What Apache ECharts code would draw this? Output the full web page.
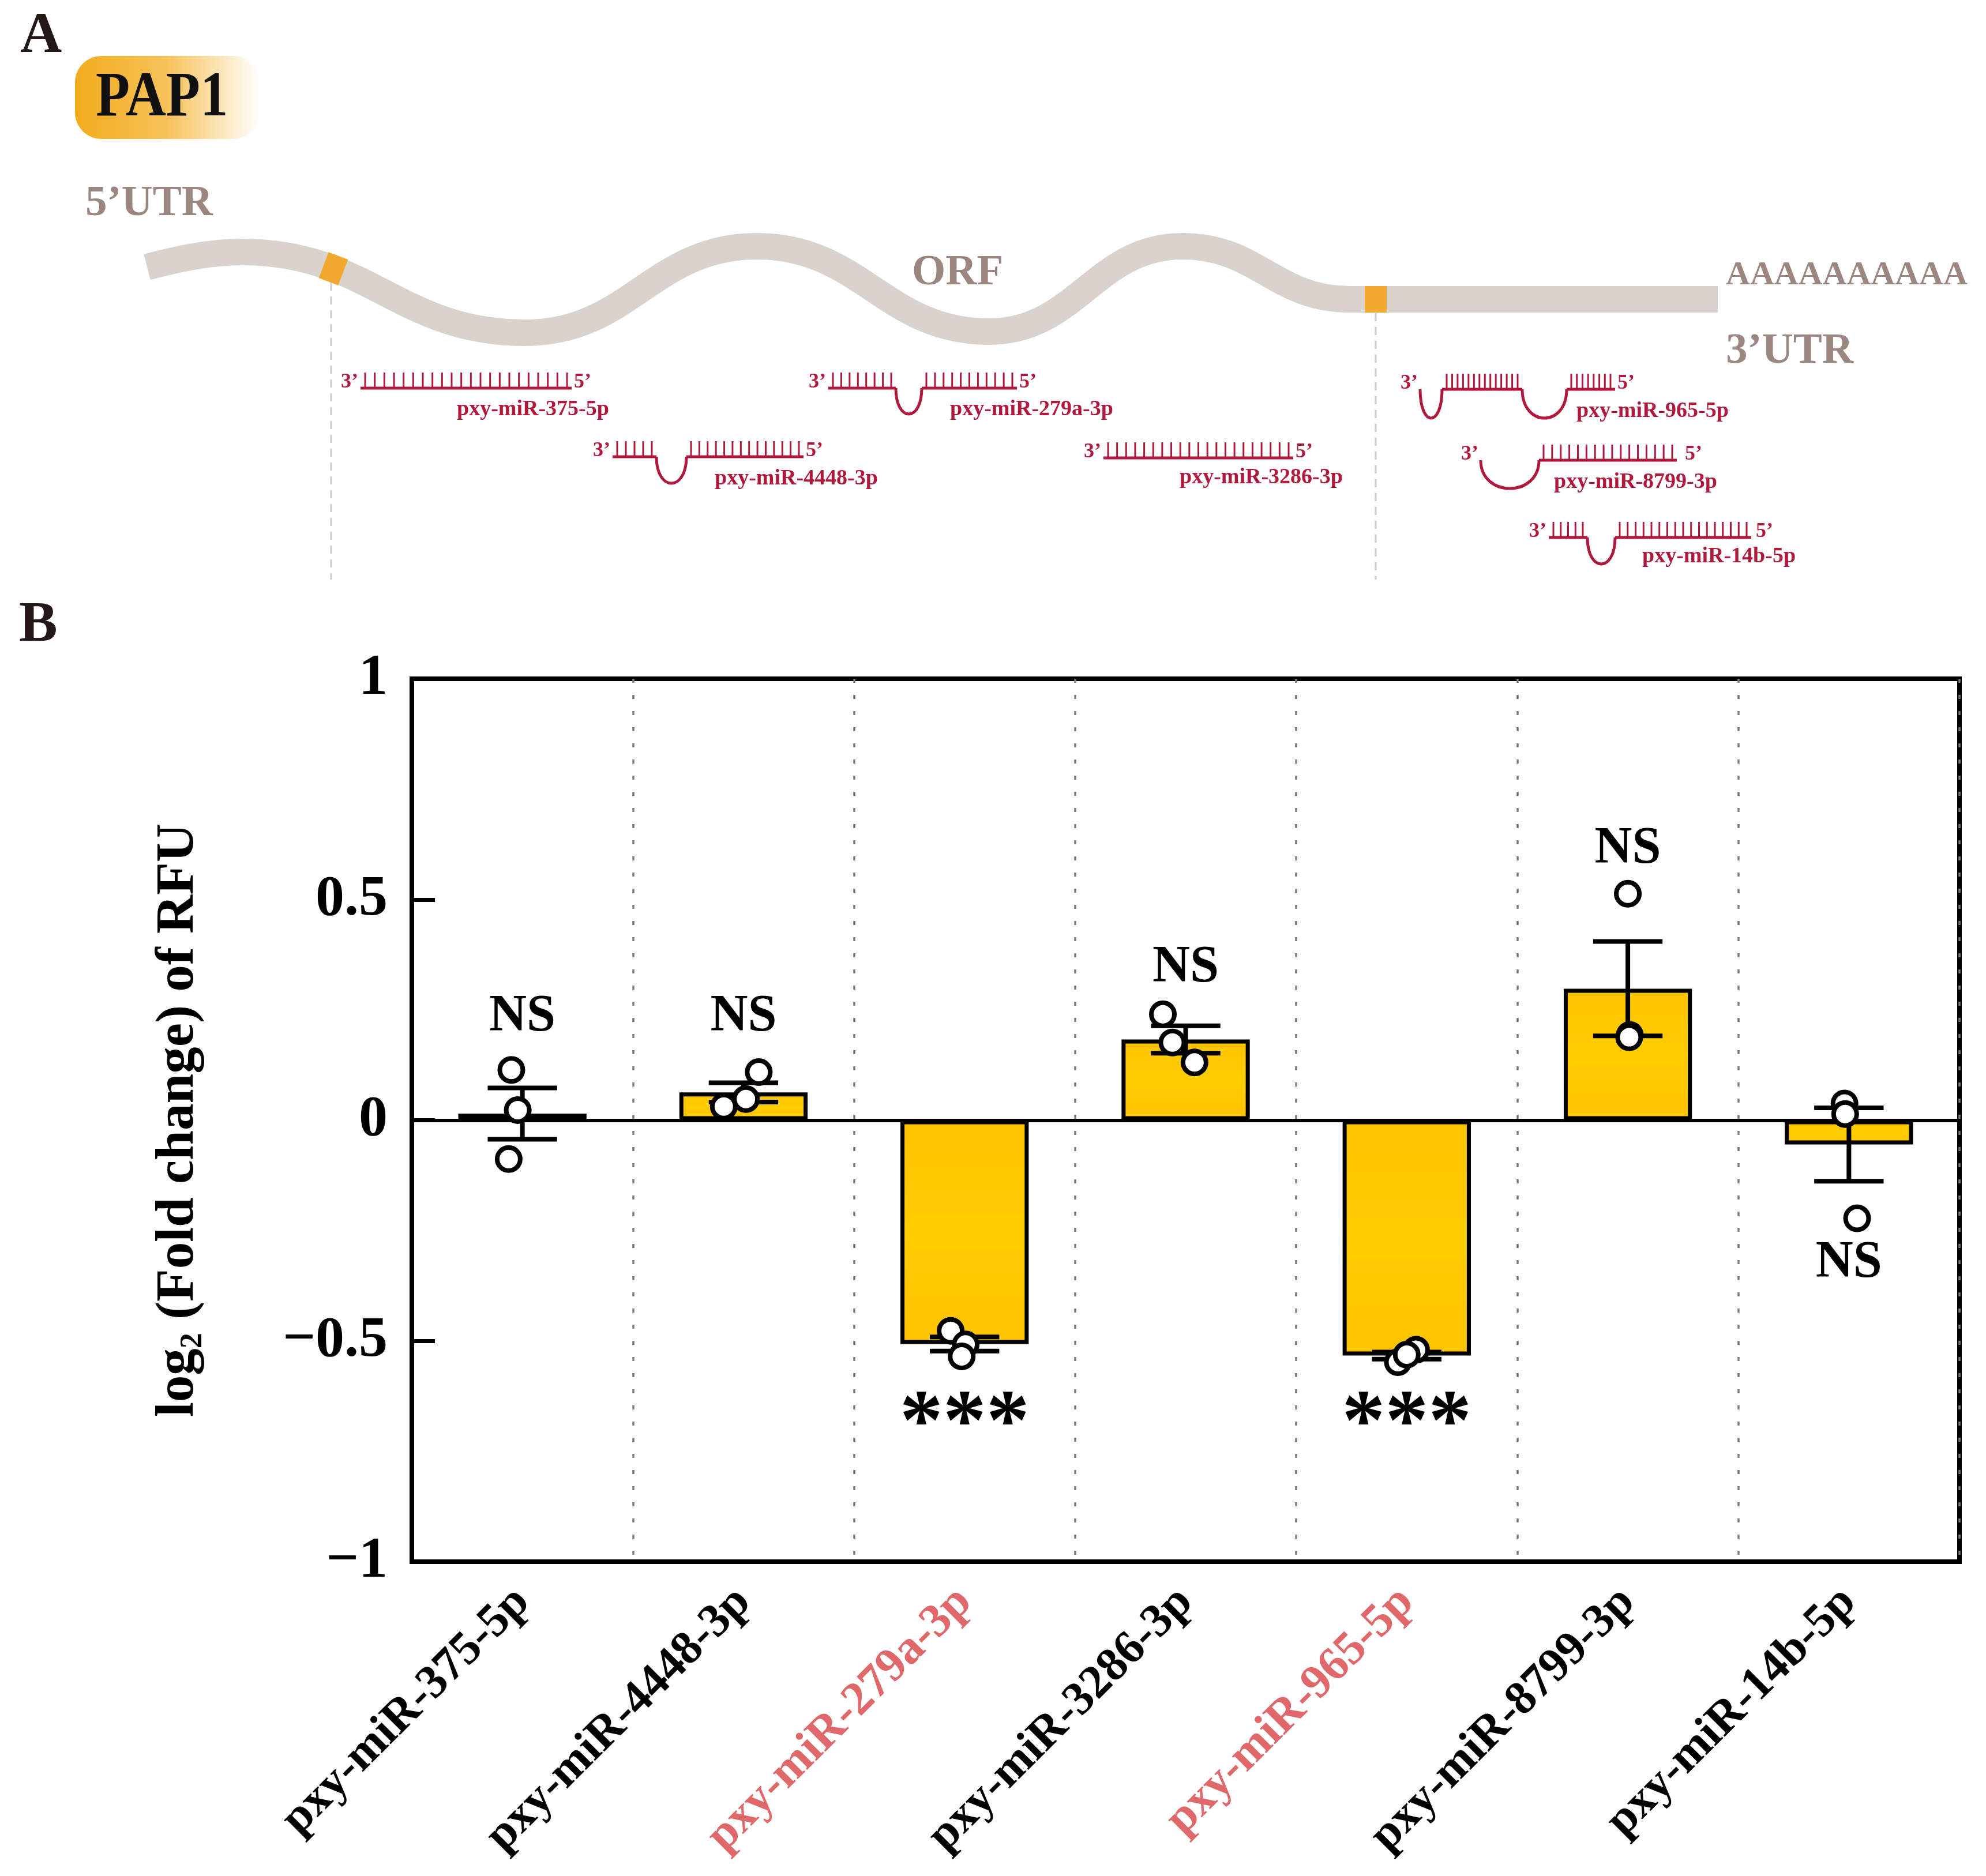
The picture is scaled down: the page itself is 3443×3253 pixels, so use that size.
<!DOCTYPE html>
<html>
<head>
<meta charset="utf-8">
<title>PAP1 miRNA</title>
<script src="https://cdn.jsdelivr.net/npm/echarts@6/dist/echarts.min.js"></script>
<style>
  html, body { margin: 0; padding: 0; background: #fff; }
  #chart { width: 3443px; height: 3253px; }
</style>
</head>
<body>
<div id="chart"></div>
<script>
// data
const categories = ['pxy-miR-375-5p', 'pxy-miR-4448-3p', 'pxy-miR-279a-3p', 'pxy-miR-3286-3p',
  'pxy-miR-965-5p', 'pxy-miR-8799-3p', 'pxy-miR-14b-5p'];
const highlighted = ['pxy-miR-279a-3p', 'pxy-miR-965-5p'];
const means = [0.015, 0.063, -0.507, 0.183, -0.533, 0.298, -0.055];
const sems = [0.058, 0.022, 0.016, 0.031, 0.008, 0.107, 0.083];
const replicates = [
  [0.114, 0.023, -0.088],
  [0.109, 0.048, 0.031],
  [-0.477, -0.508, -0.535],
  [0.240, 0.176, 0.131],
  [-0.520, -0.548, -0.531],
  [0.513, 0.193, 0.188],
  [0.038, 0.014, -0.222]
];
// horizontal jitter of the dots (in category widths)
const jitter = [
  [-0.050, -0.021, -0.062],
  [0.069, 0.011, -0.089],
  [-0.063, 0.005, -0.013],
  [-0.103, -0.060, 0.040],
  [0.042, -0.040, 0.000],
  [0.000, 0.009, 0.006],
  [-0.020, -0.017, 0.037]
];
const sigText = ['NS', 'NS', '***', 'NS', '***', 'NS', 'NS'];
const sigY = [0.234, 0.234, -0.695, 0.345, -0.695, 0.614, -0.324];
const yTicks = [-1, -0.5, 0, 0.5, 1];

const SERIF = '"Liberation Serif", "Times New Roman", serif';
const MIR = '#B0183C';
const TAUPE = '#9C8780';

// ---------- panel A schematic ----------
function txt(text, x, y, size, color, align, valign) {
  return {
    type: 'text', silent: true,
    style: {
      text: text, x: x, y: y, fill: color,
      fontSize: size, fontWeight: 'bold', fontFamily: SERIF,
      textAlign: align || 'left', textVerticalAlign: valign || 'middle'
    }
  };
}

function glyph(g, x3, y, parts, name, nameX, nameY, gap5) {
  g.push(txt('3\u2019', x3 - 4, y + 8, 36, MIR, 'right', 'bottom'));
  let x = x3;
  parts.forEach(p => {
    if (p[0] === 'p') {
      const w = p[1], n = p[2], inset = 8;
      g.push({ type: 'line', silent: true, shape: { x1: x, y1: y, x2: x + w, y2: y },
        style: { stroke: MIR, lineWidth: 5 } });
      const step = (w - 2 * inset) / (n - 1);
      for (let k = 0; k < n; k++) {
        const tx = x + inset + k * step;
        g.push({ type: 'line', silent: true, shape: { x1: tx, y1: y, x2: tx, y2: y - 27 },
          style: { stroke: MIR, lineWidth: 3 } });
      }
      x += w;
    } else {
      const w = p[1], d = p[2] * 4 / 3;
      g.push({ type: 'bezierCurve', silent: true,
        shape: { x1: x, y1: y, x2: x + w, y2: y, cpx1: x, cpy1: y + d, cpx2: x + w, cpy2: y + d },
        style: { stroke: MIR, lineWidth: 5, fill: null } });
      x += w;
    }
  });
  g.push(txt('5\u2019', x + (gap5 || 4), y + 8, 36, MIR, 'left', 'bottom'));
  g.push(txt(name, nameX, nameY + 9, 38, MIR, 'left', 'bottom'));
}

function buildSchematic() {
  const g = [];
  g.push(txt('A', 35, 64, 100, '#231815'));
  g.push(txt('B', 33, 1085, 100, '#231815'));
  g.push({
    type: 'rect', silent: true,
    shape: { x: 130, y: 97, width: 320, height: 144, r: 46 },
    style: { fill: new echarts.graphic.LinearGradient(0, 0, 1, 0, [
      { offset: 0, color: '#F2AC1C' }, { offset: 0.5, color: '#F6C25A' },
      { offset: 0.82, color: '#FCE9C4' }, { offset: 1, color: '#FFFFFF' }]) }
  });
  const pap = txt('PAP1', 0, 172, 110, '#111');
  pap.scaleX = 0.88; pap.x = 166;
  g.push(pap);
  g.push(txt('5\u2019UTR', 148, 354, 75, TAUPE));
  g.push(txt('ORF', 1581, 474, 75, TAUPE));
  g.push(txt('AAAAAAAAAA', 2992, 478, 58, TAUPE));
  g.push(txt('3\u2019UTR', 2992, 610, 75, TAUPE));

  // wavy transcript, pieces join with horizontal tangents at the turns
  const band = { stroke: '#D9D2CD', lineWidth: 46, fill: null, lineCap: 'butt' };
  const ext = [[420, 437], [911, 577], [1312, 427], [1715, 575], [2050, 427], [2340, 519]];
  g.push({ type: 'bezierCurve', silent: true,
    shape: { x1: 255, y1: 463, cpx1: 305, cpy1: 450, cpx2: 360, cpy2: 437, x2: 420, y2: 437 },
    style: band });
  for (let i = 0; i < ext.length - 1; i++) {
    const a = ext[i], b = ext[i + 1], k = 0.45 * (b[0] - a[0]);
    g.push({ type: 'bezierCurve', silent: true,
      shape: { x1: a[0], y1: a[1], cpx1: a[0] + k, cpy1: a[1], cpx2: b[0] - k, cpy2: b[1], x2: b[0], y2: b[1] },
      style: band });
  }
  g.push({ type: 'line', silent: true, shape: { x1: 2339, y1: 519, x2: 2978, y2: 519 }, style: band });

  // binding site marks and dashed guides
  g.push({ type: 'line', silent: true, shape: { x1: 574, y1: 490, x2: 574, y2: 1005 },
    style: { stroke: '#D2C9C4', lineWidth: 3, lineDash: [14, 10] } });
  g.push({ type: 'line', silent: true, shape: { x1: 2385, y1: 543, x2: 2385, y2: 1005 },
    style: { stroke: '#D2C9C4', lineWidth: 3, lineDash: [14, 10] } });
  g.push({ type: 'rect', silent: true, x: 578, y: 466, originX: 0, originY: 0, rotation: -0.36,
    shape: { x: -18, y: -24, width: 36, height: 48 }, style: { fill: '#F0A82E' } });
  g.push({ type: 'rect', silent: true,
    shape: { x: 2366, y: 496, width: 38, height: 46 }, style: { fill: '#F0A82E' } });

  // miRNA pairing sketches
  glyph(g, 625, 673, [['p', 366, 22]], 'pxy-miR-375-5p', 792, 720);
  glyph(g, 1436, 673, [['p', 117, 8], ['l', 45, 45], ['p', 165, 11]], 'pxy-miR-279a-3p', 1647, 720);
  glyph(g, 1062, 792, [['p', 76, 5], ['l', 52, 46], ['p', 203, 14]], 'pxy-miR-4448-3p', 1239, 840);
  glyph(g, 1913, 794, [['p', 329, 21]], 'pxy-miR-3286-3p', 2045, 838);
  glyph(g, 2462, 675, [['l', 38, 50], ['p', 139, 14], ['l', 77, 50], ['p', 84, 8]], 'pxy-miR-965-5p', 2733, 723);
  glyph(g, 2567, 798, [['l', 101, 49], ['p', 239, 16]], 'pxy-miR-8799-3p', 2694, 846, 14);
  glyph(g, 2685, 932, [['p', 67, 5], ['l', 48, 46], ['p', 236, 17]], 'pxy-miR-14b-5p', 2847, 975, 8);
  return g;
}

// ---------- panel B ----------
const barFill = new echarts.graphic.LinearGradient(0, 0, 0, 1, [
  { offset: 0, color: '#FFC300' }, { offset: 0.5, color: '#FFCD00' }, { offset: 1, color: '#FFC300' }]);

const dots = [];
replicates.forEach((reps, i) => reps.forEach((v, k) => dots.push([i + jitter[i][k], v])));

const chart = echarts.init(document.getElementById('chart'));
chart.setOption({
  backgroundColor: '#fff',
  animation: false,
  graphic: buildSchematic(),
  grid: { left: 714, right: 46, top: 1177, bottom: 545, show: true, borderColor: '#000', borderWidth: 8 },
  xAxis: [{
    type: 'category', data: categories, boundaryGap: true,
    axisLine: { onZero: false, lineStyle: { color: '#000', width: 8 } },
    axisTick: { show: false },
    splitLine: { show: true, lineStyle: { color: '#7a7a7a', width: 3.5, type: [7, 21] } },
    axisLabel: {
      interval: 0, rotate: 45, margin: 58,
      fontSize: 82, fontWeight: 'bold', fontFamily: SERIF,
      color: (v) => highlighted.indexOf(v) >= 0 ? '#E0686A' : '#000'
    }
  }, {
    type: 'value', min: -0.5, max: 6.5, show: false
  }],
  yAxis: {
    type: 'value', min: yTicks[0], max: yTicks[yTicks.length - 1], interval: 0.5,
    axisLine: { show: true, onZero: false, lineStyle: { color: '#000', width: 8 } },
    axisTick: { show: true, inside: true, length: 40, lineStyle: { color: '#000', width: 7 } },
    splitLine: { show: false },
    axisLabel: {
      margin: 42, fontSize: 100, fontWeight: 'bold', fontFamily: SERIF, color: '#000',
      formatter: (v) => v < 0 ? '\u2212' + Math.abs(v) : String(v)
    },
    name: '{a|log}{b|2}{a| (Fold change) of RFU}',
    nameLocation: 'middle', nameGap: 352, nameRotate: 90,
    nameTextStyle: {
      rich: {
        a: { fontSize: 93, fontWeight: 'bold', fontFamily: SERIF, color: '#000', lineHeight: 104 },
        b: { fontSize: 54, fontWeight: 'bold', fontFamily: SERIF, color: '#000', verticalAlign: 'bottom', lineHeight: 104 }
      }
    }
  },
  series: [{
    type: 'bar', data: means, barWidth: '58%', z: 2,
    itemStyle: { color: barFill, borderColor: '#000', borderWidth: 7 },
    markLine: {
      silent: true, symbol: ['none', 'none'], label: { show: false },
      lineStyle: { color: '#000', width: 6, type: 'solid' },
      data: [{ yAxis: 0 }]
    }
  }, {
    type: 'custom', z: 4,
    data: means.map((m, i) => [i, m, sems[i]]),
    renderItem: (params, api) => {
      const i = api.value(0), m = api.value(1), s = api.value(2);
      const hi = api.coord([i, m + s]), lo = api.coord([i, m - s]);
      const hw = api.size([1, 0])[0] * 0.157;
      const st = { stroke: '#000', lineWidth: 8 };
      return { type: 'group', children: [
        { type: 'line', shape: { x1: hi[0], y1: hi[1], x2: lo[0], y2: lo[1] }, style: st },
        { type: 'line', shape: { x1: hi[0] - hw, y1: hi[1], x2: hi[0] + hw, y2: hi[1] }, style: st },
        { type: 'line', shape: { x1: lo[0] - hw, y1: lo[1], x2: lo[0] + hw, y2: lo[1] }, style: st }
      ] };
    }
  }, {
    type: 'scatter', xAxisIndex: 1, z: 5, data: dots,
    symbol: 'circle', symbolSize: 40,
    itemStyle: { color: '#fff', borderColor: '#000', borderWidth: 8, opacity: 1 }
  }, {
    type: 'custom', z: 6,
    data: sigY.map((y, i) => [i, y]),
    renderItem: (params, api) => {
      const i = api.value(0);
      const p = api.coord([i, api.value(1)]);
      const t = sigText[i];
      return { type: 'text', x: p[0], y: p[1], style: {
        text: t, fill: '#000', fontFamily: SERIF, fontWeight: 'bold',
        fontSize: t === 'NS' ? 90 : 150, align: 'center', verticalAlign: 'middle'
      } };
    }
  }]
});
</script>
</body>
</html>
